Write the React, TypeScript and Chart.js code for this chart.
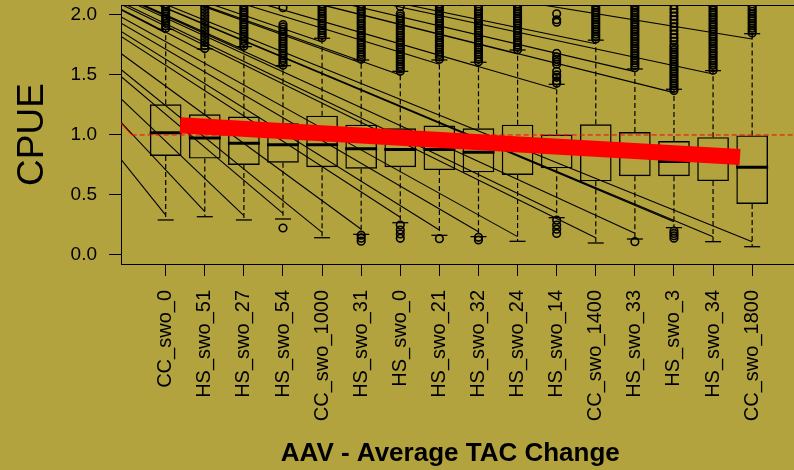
import React, { useEffect, useRef } from 'react';
import { Chart, registerables } from 'chart.js';

Chart.register(...registerables);

// Management procedures, ordered along the x axis
const categories = [
  'CC_swo_0', 'HS_swo_51', 'HS_swo_27', 'HS_swo_54', 'CC_swo_1000', 'HS_swo_31',
  'HS_swo_0', 'HS_swo_21', 'HS_swo_32', 'HS_swo_24', 'HS_swo_14', 'CC_swo_1400',
  'HS_swo_33', 'HS_swo_3', 'HS_swo_34', 'CC_swo_1800',
];

// Box statistics of CPUE per procedure
const q1 = [0.825, 0.803, 0.750, 0.769, 0.731, 0.719, 0.731, 0.708, 0.689, 0.667, 0.722, 0.614, 0.657, 0.657, 0.616, 0.425];
const medians = [1.019, 0.975, 0.931, 0.919, 0.919, 0.886, 0.878, 0.878, 0.856, 0.880, 0.860, 0.855, 0.840, 0.779, 0.800, 0.732];
const q3 = [1.256, 1.172, 1.153, 1.097, 1.161, 1.086, 1.056, 1.078, 1.056, 1.086, 1.003, 1.089, 1.025, 0.950, 0.982, 0.996];
const whiskerLow = [0.292, 0.319, 0.292, 0.300, 0.144, 0.172, 0.269, 0.164, 0.153, 0.114, 0.311, 0.100, 0.133, 0.228, 0.111, 0.069];
const whiskerHigh = [1.880, 1.717, 1.736, 1.578, 1.806, 1.625, 1.530, 1.625, 1.606, 1.708, 1.422, 1.790, 1.550, 1.381, 1.536, 1.844];

// Outlying simulations above the upper whisker
const outliersHigh: number[][] = [
  [1.89, 1.91, 1.93, 1.95, 1.97, 1.99, 2.01, 2.03, 2.05, 2.07, 2.09],
  [1.72, 1.745, 1.77, 1.795, 1.82, 1.845, 1.87, 1.895, 1.92, 1.945, 1.97, 1.995, 2.02, 2.045, 2.07, 2.095],
  [1.74, 1.76, 1.78, 1.80, 1.82, 1.84, 1.86, 1.88, 1.90, 1.92, 1.94, 1.96, 1.98, 2.00, 2.02, 2.04, 2.06, 2.08],
  [1.58, 1.60, 1.62, 1.64, 1.66, 1.68, 1.70, 1.72, 1.74, 1.76, 1.78, 1.80, 1.82, 1.84, 1.86, 1.88, 1.90, 1.92, 2.06],
  [1.81, 1.83, 1.85, 1.87, 1.89, 1.91, 1.93, 1.95, 1.97, 1.99, 2.01, 2.03, 2.05, 2.07, 2.09],
  [1.63, 1.65, 1.67, 1.69, 1.71, 1.73, 1.75, 1.77, 1.79, 1.81, 1.83, 1.85, 1.87, 1.89, 1.91, 1.93, 1.95, 1.97, 1.99, 2.01, 2.03, 2.05, 2.07, 2.09],
  [1.53, 1.55, 1.57, 1.59, 1.61, 1.63, 1.65, 1.67, 1.69, 1.71, 1.73, 1.75, 1.77, 1.79, 1.81, 1.83, 1.85, 1.87, 1.89, 1.91, 1.93, 1.95, 1.97, 1.99, 2.01, 2.07],
  [1.63, 1.65, 1.67, 1.69, 1.71, 1.73, 1.75, 1.77, 1.79, 1.81, 1.83, 1.85, 1.87, 1.89, 1.91, 1.93, 1.95, 1.97, 1.99, 2.01, 2.03, 2.05, 2.07, 2.09],
  [1.61, 1.63, 1.65, 1.67, 1.69, 1.71, 1.73, 1.75, 1.77, 1.79, 1.81, 1.83, 1.85, 1.87, 1.89, 1.91, 1.93, 1.95, 1.97, 1.99, 2.01, 2.03, 2.05, 2.07],
  [1.71, 1.73, 1.75, 1.77, 1.79, 1.81, 1.83, 1.85, 1.87, 1.89, 1.91, 1.93, 1.95, 1.97, 1.99, 2.01, 2.03, 2.05, 2.07, 2.09],
  [1.43, 1.45, 1.48, 1.50, 1.53, 1.59, 1.61, 1.63, 1.65, 1.68, 1.94, 1.96, 2.01],
  [1.80, 1.82, 1.84, 1.86, 1.88, 1.90, 1.92, 1.94, 1.96, 1.98, 2.00, 2.02, 2.04, 2.06, 2.08],
  [1.56, 1.58, 1.60, 1.62, 1.64, 1.66, 1.68, 1.70, 1.72, 1.74, 1.76, 1.78, 1.80, 1.82, 1.84, 1.86, 1.88, 1.90, 1.92, 1.94, 1.96, 1.98, 2.00, 2.02, 2.04, 2.06, 2.08],
  [1.37, 1.39, 1.41, 1.43, 1.45, 1.47, 1.49, 1.51, 1.53, 1.55, 1.57, 1.59, 1.61, 1.63, 1.65, 1.67, 1.69, 1.71, 1.73, 1.75, 1.78, 1.81, 1.84, 1.87, 1.90, 1.93, 1.96, 1.99, 2.02, 2.05, 2.08],
  [1.54, 1.56, 1.58, 1.60, 1.62, 1.64, 1.66, 1.68, 1.70, 1.72, 1.74, 1.76, 1.78, 1.80, 1.82, 1.84, 1.86, 1.88, 1.90, 1.92, 1.94, 1.96, 1.98, 2.00, 2.02, 2.04, 2.06, 2.08],
  [1.85, 1.87, 1.89, 1.91, 1.93, 1.95, 1.97, 1.99, 2.01, 2.03, 2.05, 2.07],
];

// Outlying simulations below the lower whisker
const outliersLow: number[][] = [
  [], [], [], [0.225], [], [0.165, 0.14, 0.115], [0.25, 0.208, 0.175, 0.139], [0.136],
  [0.147, 0.125], [], [0.29, 0.25, 0.215, 0.18], [], [0.111], [0.2, 0.18, 0.16, 0.14], [], [],
];

// Thin guide lines fanning out from a common vanishing point to each box
const fanOriginX = -5.39;
const fanOriginY = 2.93;
const fanLowEnd = [0.333, 0.361, 0.328, 0.347, 0.189, 0.214, 0.314, 0.208, 0.194, 0.153, 0.356, 0.144, 0.181, 0.278, 0.153, 0.111];
const fanHighEnd = [1.850, 1.690, 1.710, 1.550, 1.775, 1.600, 1.500, 1.590, 1.569, 1.675, 1.381, 1.760, 1.528, 1.353, 1.508, 1.800];

// Reference level (red dashed) and fitted trend (thick red)
const refX = [-0.3, 0.13, 17.5];
const refY = [1.152, 1.0, 1.0];
const trendX = [1.37, 15.69];
const trendY = [1.081, 0.817];

const yTicks = [0, 0.5, 1.0, 1.5, 2.0];

const X_MIN = -0.143;
const X_MAX = 17.07;
const Y_MIN = -0.075;
const Y_MAX = 2.083;

const BG = '#B2A33F';
const FONT = "'Liberation Sans', Arial, Helvetica, sans-serif";

const framePlugin = {
  id: 'frame',
  beforeDraw(chart: any) {
    const { ctx, width, height } = chart;
    ctx.save();
    ctx.fillStyle = BG;
    ctx.fillRect(0, 0, width, height);
    ctx.restore();
  },
  afterDraw(chart: any) {
    const { ctx, chartArea } = chart;
    const y = Math.round(chartArea.top) + 0.5;
    ctx.save();
    ctx.strokeStyle = '#000';
    ctx.lineWidth = 1;
    ctx.beginPath();
    ctx.moveTo(chartArea.left, y);
    ctx.lineTo(chartArea.right, y);
    ctx.stroke();
    ctx.restore();
  },
};

export default function App() {
  const ref = useRef<HTMLCanvasElement>(null);

  useEffect(() => {
    document.body.style.margin = '0';
    document.body.style.background = BG;

    const boxes = categories.map((_, i) => ({ x: i + 1, y: [q1[i], q3[i]] }));
    const medianPts = categories.map((_, i) => ({ x: i + 1, y: medians[i] }));
    const capPts: any[] = [];
    const whiskerPts: any[] = [];
    const fanPts: any[] = [];
    const outlierPts: any[] = [];
    categories.forEach((_, i) => {
      const x = i + 1;
      capPts.push({ x, y: whiskerLow[i] }, { x, y: whiskerHigh[i] });
      whiskerPts.push(
        { x, y: q3[i] }, { x, y: whiskerHigh[i] }, { x, y: null },
        { x, y: q1[i] }, { x, y: whiskerLow[i] }, { x, y: null },
      );
      fanPts.push(
        { x: fanOriginX, y: fanOriginY }, { x, y: fanLowEnd[i] }, { x, y: null },
        { x: fanOriginX, y: fanOriginY }, { x, y: fanHighEnd[i] }, { x, y: null },
      );
      outliersHigh[i].forEach((v) => outlierPts.push({ x, y: v }));
      outliersLow[i].forEach((v) => outlierPts.push({ x, y: v }));
    });

    const chart = new Chart(ref.current as HTMLCanvasElement, {
      type: 'scatter',
      data: {
        datasets: [
          {
            type: 'line',
            data: trendX.map((x, i) => ({ x, y: trendY[i] })),
            borderColor: '#FF0000',
            borderWidth: 16,
            borderCapStyle: 'butt',
            pointRadius: 0,
            order: 0,
          } as any,
          {
            type: 'line',
            data: refX.map((x, i) => ({ x, y: refY[i] })),
            borderColor: '#FF0000',
            borderWidth: 1,
            pointRadius: 0,
            segment: { borderDash: (c: any) => (c.p0DataIndex === 0 ? [] : [5, 3]) },
            order: 1,
          } as any,
          {
            type: 'scatter',
            data: outlierPts,
            pointStyle: 'circle',
            pointRadius: 3.8,
            borderWidth: 1.6,
            borderColor: '#000',
            backgroundColor: 'rgba(0,0,0,0)',
            order: 2,
          } as any,
          {
            type: 'line',
            data: fanPts,
            borderColor: '#000',
            borderWidth: 1.1,
            pointRadius: 0,
            spanGaps: false,
            order: 3,
          } as any,
          {
            type: 'scatter',
            data: medianPts,
            pointStyle: 'line',
            pointRadius: 16,
            borderWidth: 3,
            borderColor: '#000',
            order: 4,
          } as any,
          {
            type: 'scatter',
            data: capPts,
            pointStyle: 'line',
            pointRadius: 8,
            borderWidth: 1.3,
            borderColor: '#000',
            order: 5,
          } as any,
          {
            type: 'line',
            data: whiskerPts,
            borderColor: '#000',
            borderWidth: 1.2,
            borderDash: [5, 3],
            pointRadius: 0,
            spanGaps: false,
            order: 6,
          } as any,
          {
            type: 'bar',
            data: boxes,
            backgroundColor: 'rgba(0,0,0,0)',
            borderColor: '#000',
            borderWidth: 1.4,
            borderSkipped: false,
            barPercentage: 0.81,
            categoryPercentage: 1,
            order: 7,
          } as any,
        ],
      },
      options: {
        responsive: false,
        animation: false,
        devicePixelRatio: 1,
        events: [],
        layout: { autoPadding: false, padding: { top: 5, right: 0, bottom: 0, left: 0 } },
        plugins: {
          legend: { display: false },
          tooltip: { enabled: false },
        },
        scales: {
          x: {
            type: 'linear',
            min: X_MIN,
            max: X_MAX,
            bounds: 'data',
            offset: false,
            afterBuildTicks: (s: any) => {
              s.ticks = categories.map((_, i) => ({ value: i + 1 }));
            },
            afterFit: (s: any) => {
              s.height = 206;
              s.paddingLeft = 0;
              s.paddingRight = 0;
            },
            ticks: {
              autoSkip: false,
              minRotation: 90,
              maxRotation: 90,
              padding: 14,
              color: '#000',
              font: { family: FONT, size: 20 },
              callback: (_v: any, i: number) => categories[i],
            },
            grid: { offset: false, drawOnChartArea: false, drawTicks: true, tickLength: 12, color: '#000', lineWidth: 1 },
            border: { display: true, color: '#000', width: 1 },
            title: {
              display: true,
              text: 'AAV - Average TAC Change  ',
              color: '#000',
              font: { family: FONT, size: 26, weight: 'bold' },
              padding: { top: 0, bottom: 1 },
            },
          },
          y: {
            type: 'linear',
            min: Y_MIN,
            max: Y_MAX,
            bounds: 'data',
            afterBuildTicks: (s: any) => {
              s.ticks = yTicks.map((v) => ({ value: v }));
            },
            afterFit: (s: any) => {
              s.width = 121;
              s.paddingTop = 0;
              s.paddingBottom = 0;
            },
            ticks: {
              padding: 12,
              color: '#000',
              font: { family: FONT, size: 19 },
              callback: (v: any) => Number(v).toFixed(1),
            },
            grid: { offset: false, drawOnChartArea: false, drawTicks: true, tickLength: 12, color: '#000', lineWidth: 1 },
            border: { display: true, color: '#000', width: 1 },
            title: {
              display: true,
              text: 'CPUE',
              color: '#000',
              font: { family: FONT, size: 37 },
              padding: { top: 11, bottom: 0 },
            },
          },
        },
      } as any,
      plugins: [framePlugin],
    });

    return () => chart.destroy();
  }, []);

  return (
    <canvas
      ref={ref}
      width={794}
      height={470}
      style={{ display: 'block', width: 794, height: 470 }}
    />
  );
}
